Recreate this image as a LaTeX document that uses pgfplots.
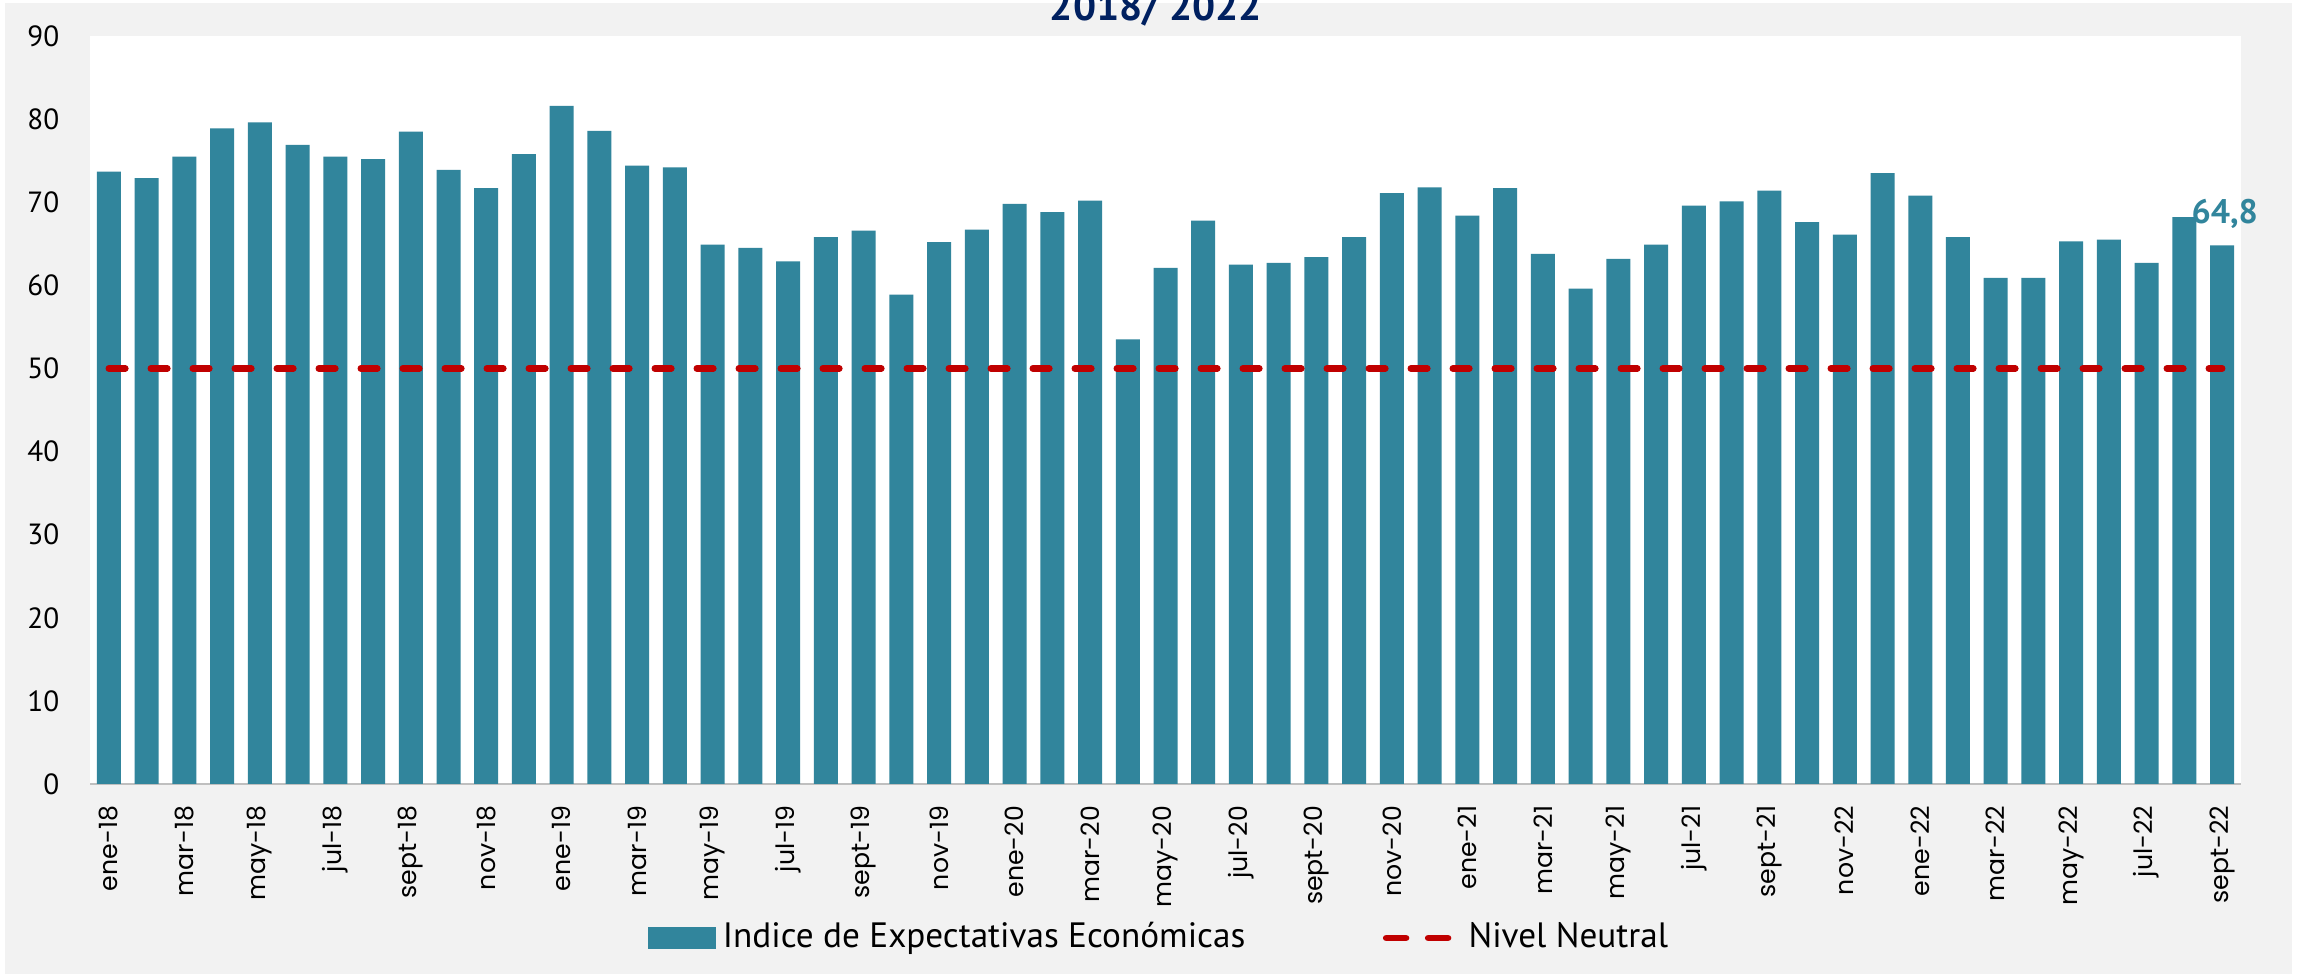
\documentclass[border=0pt]{standalone}
\usepackage{fontspec}
\setmainfont{PT Sans}
\newfontfamily\xfont{Poppins}
\usepackage{pgfplots}
\usepackage{pgfplotstable}
\pgfplotsset{compat=1.18}
\definecolor{barcol}{HTML}{31859C}
\definecolor{bg}{HTML}{F2F2F2}
\definecolor{neutral}{HTML}{C00000}
\definecolor{titlecol}{HTML}{002060}
\definecolor{axcol}{HTML}{BFBFBF}

\pgfplotstableread{
x y n
0 73.7 50
1 72.9 50
2 75.5 50
3 78.9 50
4 79.6 50
5 76.9 50
6 75.5 50
7 75.2 50
8 78.5 50
9 73.9 50
10 71.7 50
11 75.8 50
12 81.6 50
13 78.6 50
14 74.4 50
15 74.2 50
16 64.9 50
17 64.5 50
18 62.9 50
19 65.8 50
20 66.6 50
21 58.9 50
22 65.2 50
23 66.7 50
24 69.8 50
25 68.8 50
26 70.2 50
27 53.5 50
28 62.1 50
29 67.8 50
30 62.5 50
31 62.7 50
32 63.4 50
33 65.8 50
34 71.1 50
35 71.8 50
36 68.4 50
37 71.7 50
38 63.8 50
39 59.6 50
40 63.2 50
41 64.9 50
42 69.6 50
43 70.1 50
44 71.4 50
45 67.6 50
46 66.1 50
47 73.5 50
48 70.8 50
49 65.8 50
50 60.9 50
51 60.9 50
52 65.3 50
53 65.5 50
54 62.7 50
55 68.2 50
56 64.8 50
}\datatable

\begin{document}
\begin{tikzpicture}[x=1pt,y=1pt]
\useasboundingbox (0,0) rectangle (575.75,243.5);
\fill[bg] (1.25,0) rectangle (573,242.75);
\begin{axis}[
  at={(22.5pt,47.5pt)}, anchor=south west,
  scale only axis, width=537.75pt, height=187pt,
  xmin=-0.5, xmax=56.5, ymin=0, ymax=90,
  clip=false,
  axis background/.style={fill=white},
  separate axis lines,
  axis x line*=bottom, axis y line*=left,
  x axis line style={draw=axcol, line width=0.7pt, -},
  y axis line style={draw=none},
  major tick length=0pt,
  tick style={draw=none},
  ytick={0,10,...,90},
  yticklabel style={font=\fontsize{7.3}{8}\selectfont, inner sep=0pt, anchor=east},
  yticklabel shift=7.5pt,
  /pgf/number format/assume math mode=true,
  xtick={0,2,...,56},
  xticklabels={ene-18,mar-18,may-18,jul-18,sept-18,nov-18,ene-19,mar-19,may-19,jul-19,sept-19,nov-19,ene-20,mar-20,may-20,jul-20,sept-20,nov-20,ene-21,mar-21,may-21,jul-21,sept-21,nov-22,ene-22,mar-22,may-22,jul-22,sept-22},
  xticklabel style={rotate=90, anchor=east, inner sep=0pt, font=\xfont\fontsize{6.3}{7}\selectfont},
  xticklabel shift=5.25pt,
  legend columns=2,
  legend cell align=left,
  legend style={at={(axis description cs:0.2594,-0.2059)}, anchor=west,
    draw=none, fill=none, inner sep=0pt, outer sep=0pt,
    font=\fontsize{8.8}{10}\selectfont, nodes={inner sep=0pt},
    /tikz/every odd column/.style={column sep=1.75pt},
    /tikz/every even column/.style={column sep=34.4pt}},
]
\addplot[ybar, bar width=6pt, bar shift=0pt, fill=barcol, draw=none,
  legend image code/.code={\fill[barcol] (0pt,-2.75pt) rectangle (17pt,2.75pt);}]
  table[x=x,y=y]{\datatable};
\addlegendentry{Indice de Expectativas Económicas}
\addplot[neutral, line width=1.67pt, line cap=round, dash pattern=on 4.1pt off 6.4pt, mark=none,
  legend image code/.code={\draw[neutral, line width=1.67pt, line cap=round] (0.84pt,0pt) -- (5.06pt,0pt) (11.34pt,0pt) -- (15.56pt,0pt); \path (0pt,0pt) -- (18pt,0pt);}]
  table[x=x,y=n]{\datatable};
\addlegendentry{Nivel Neutral}
\node[font=\bfseries\fontsize{8.5}{10}\selectfont, text=barcol, anchor=base] at (axis cs:56.07,67.5) {64,8};
\end{axis}
\node[font=\bfseries\fontsize{10.2}{12}\selectfont, text=titlecol, anchor=base] at (289,238.25) {2018/ 2022};
\end{tikzpicture}
\end{document}
